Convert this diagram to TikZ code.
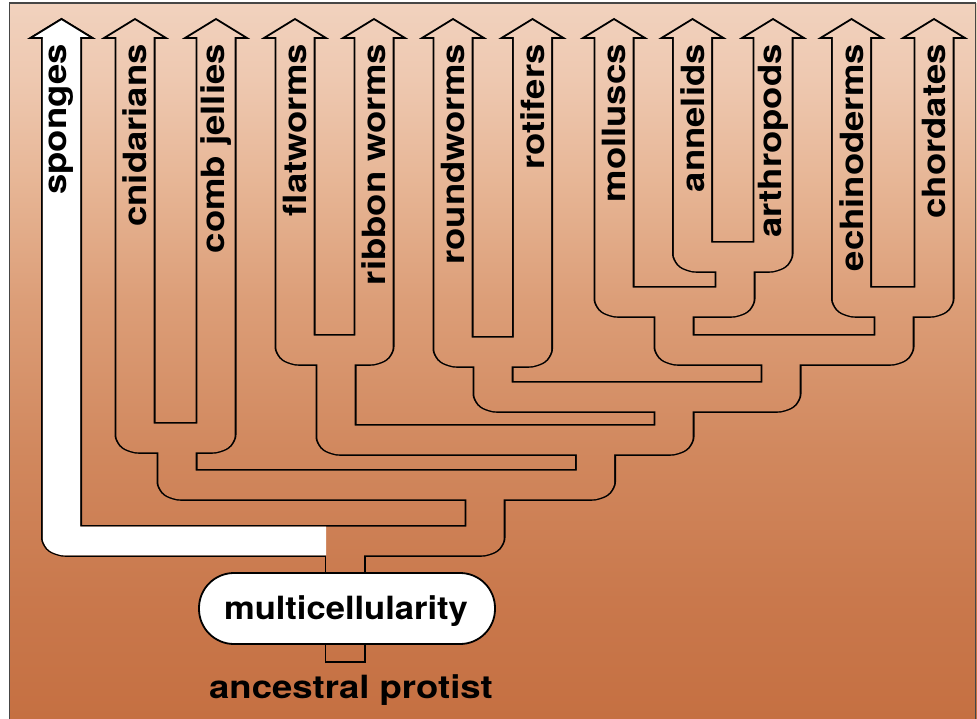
\documentclass[tikz,border=0pt]{standalone}
\usepackage{fontspec}
\setmainfont{TeX Gyre Heros}
\usepackage{graphicx}
\definecolor{c0}{RGB}{197,112,66}
\definecolor{c1}{RGB}{201,120,76}
\definecolor{c2}{RGB}{209,136,94}
\definecolor{c3}{RGB}{220,158,120}
\definecolor{c4}{RGB}{231,182,150}
\definecolor{c5}{RGB}{238,200,176}
\definecolor{c6}{RGB}{241,210,190}
\definecolor{framecol}{RGB}{70,70,70}
\pgfdeclareverticalshading{bgsh}{100bp}{color(0bp)=(c0); color(25bp)=(c0); color(33.25bp)=(c1); color(43.74bp)=(c2); color(54.23bp)=(c3); color(62.62bp)=(c4); color(69.62bp)=(c5); color(75bp)=(c6); color(100bp)=(c6)}
\newcommand\treeskel[3]{%
  \draw[#3] (61.5,#1) -- (61.5,541) -- (485,541) -- (485,485);
  \draw[#3] (345,#2) -- (345,541);
  \draw[#3] (177,438) -- (177,485) -- (595.5,485) -- (595.5,440);
  \draw[#3] (135,#1) -- (135,438) -- (216,438) -- (216,#1);
  \draw[#3] (336,350) -- (336,440) -- (674,440) -- (674,397);
  \draw[#3] (295,#1) -- (295,350) -- (374,350) -- (374,#1);
  \draw[#3] (493,352) -- (493,397) -- (781,397) -- (781,350);
  \draw[#3] (453,#1) -- (453,352) -- (532.5,352) -- (532.5,#1);
  \draw[#3] (674,302) -- (674,350) -- (894,350) -- (894,302);
  \draw[#3] (614,#1) -- (614,302) -- (735,302) -- (735,257);
  \draw[#3] (692.5,#1) -- (692.5,257) -- (773,257) -- (773,#1);
  \draw[#3] (851.5,#1) -- (851.5,302) -- (934,302) -- (934,#1);
}
\newcommand\lbtxt[1]{\scalebox{1.14}[1]{#1}}
\tikzset{
  lbl/.style={inner sep=0pt, font=\fontsize{32}{38}\selectfont\bfseries},
  taxon/.style={lbl, rotate=90, anchor=east},
  tubeouter/.style={draw=black, line width=41pt, rounded corners=4pt, line join=round},
  tubeinner/.style={draw=white, line width=37.4pt, rounded corners=4pt, line join=round},
  arrowhd/.style={fill=white, draw=black, line width=1.8pt, line join=miter},
  squash/.style={y=-1.2987013pt, transform canvas={yscale=0.77}},
}
\begin{document}
\begin{tikzpicture}[x=1pt,y=-1pt]
\useasboundingbox (0,0) rectangle (977,718);
\fill[white] (0,0) rectangle (977,718);
% tube outlines
\begin{scope}[squash]
  \treeskel{38}{663}{tubeouter}
\end{scope}
% arrow heads
\foreach \c in {61.5,135,216,295,374,453,532.5,614,692.5,773,851.5,934}
  \filldraw[arrowhd] (\c-31,38) -- (\c,19) -- (\c+31,38) -- cycle;
% tube interiors
\begin{scope}[squash]
  \treeskel{36}{661.2}{tubeinner}
\end{scope}
% colour the background and tube interiors
\begin{scope}[blend mode=multiply]
  \shade[shading=bgsh] (9.5,3) rectangle (977,718);
\end{scope}
% sponges stay white
\filldraw[arrowhd] (61.5-31,38) -- (61.5,19) -- (61.5+31,38) -- cycle;
\begin{scope}[squash]
  \draw[tubeinner] (61.5,36) -- (61.5,541) -- (326,541);
\end{scope}
% multicellularity box
\node[draw=black, fill=white, line width=1.8pt, rounded corners=35pt,
      minimum width=296pt, minimum height=71pt, inner sep=0pt] (mcbox) at (347,608.5) {};
\node[lbl] (mctext) at (346,611) {\scalebox{1.08}[1]{multicellularity}};
\node[lbl] (protist) at (351,690) {\lbtxt{ancestral protist}};
% taxa labels
\node[taxon] (sponges) at (61.5,44) {\lbtxt{sponges}};
\node[taxon] (cnidarians) at (135,44) {\lbtxt{cnidarians}};
\node[taxon] (comb) at (216,44) {\lbtxt{comb jellies}};
\node[taxon] (flatworms) at (295,44) {\lbtxt{flatworms}};
\node[taxon] (ribbon) at (374,44) {\lbtxt{ribbon worms}};
\node[taxon] (roundworms) at (453,44) {\lbtxt{roundworms}};
\node[taxon] (rotifers) at (532.5,44) {\lbtxt{rotifers}};
\node[taxon] (molluscs) at (614,44) {\lbtxt{molluscs}};
\node[taxon] (annelids) at (692.5,44) {\lbtxt{annelids}};
\node[taxon] (arthropods) at (773,44) {\lbtxt{arthropods}};
\node[taxon] (echinoderms) at (851.5,44) {\lbtxt{echinoderms}};
\node[taxon] (chordates) at (934,44) {\lbtxt{chordates}};
% frame
\draw[framecol, line width=1.5pt] (9.5,720) -- (9.5,3) -- (975.5,3) -- (975.5,720);
\end{tikzpicture}
\end{document}
